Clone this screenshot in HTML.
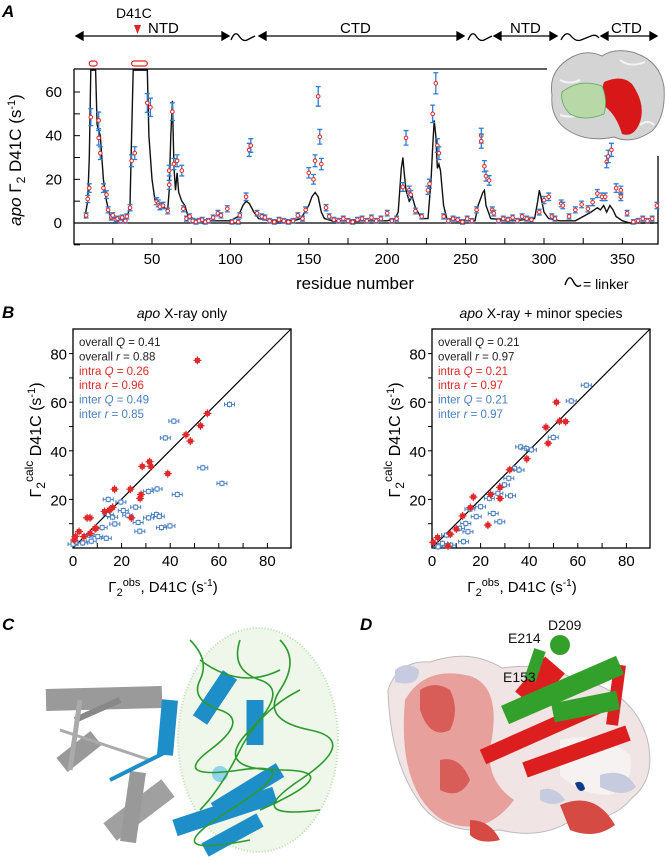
<!DOCTYPE html>
<html><head><meta charset="utf-8"><style>
html,body{margin:0;padding:0;background:#fff}
svg{display:block;font-family:"Liberation Sans",sans-serif}
</style></head><body>
<svg id="fig" width="666" height="863" viewBox="0 0 666 863" xmlns="http://www.w3.org/2000/svg">
<g id="panelA">
<text x="2" y="17" font-size="17" font-weight="bold" font-style="italic">A</text>
<g stroke="#000" stroke-width="1.3" fill="none">
<line x1="76" y1="36" x2="229" y2="36"/><path d="M76 36 l7 -4 v8z" fill="#000"/><path d="M229 36 l-7 -4 v8z" fill="#000"/>
<path d="M231 40 q4 -10 8 -4 t8 4 t8 -4" /><line x1="259" y1="36" x2="464" y2="36"/><path d="M259 36 l7 -4 v8z" fill="#000"/><path d="M464 36 l-7 -4 v8z" fill="#000"/>
<path d="M468 40 q4 -10 8 -4 t8 4 t8 -4"/><line x1="494" y1="36" x2="557" y2="36"/><path d="M494 36 l7 -4 v8z" fill="#000"/><path d="M557 36 l-7 -4 v8z" fill="#000"/>
<path d="M561 40 q5 -10 10 -4 t10 4 t10 -4 t8 2"/><line x1="601" y1="36" x2="656" y2="36"/><path d="M601 36 l7 -4 v8z" fill="#000"/><path d="M657 36 l-7 -4 v8z" fill="#000"/>
</g>
<g font-size="15">
<text x="116" y="18" font-size="14">D41C</text>
<path d="M134 25 h7 l-3.5 9z" fill="#d22"/>
<text x="148" y="33">NTD</text><text x="340" y="33">CTD</text><text x="510" y="33">NTD</text><text x="611" y="33">CTD</text>
</g>
<g>
<path d="M552 95 q-4 -25 20 -38 q15 -8 30 -1 q12 -8 30 -4 q28 8 32 35 q2 30 -12 44 q-20 14 -38 6 q-28 6 -48 -8 q-16 -12 -14 -34z" fill="#d4d4d4" stroke="#888"/>
<path d="M560 80 q10 5 20 0 M620 60 q10 8 25 2 M560 115 q15 5 25 -5 M640 125 q8 -6 14 0" fill="none" stroke="#f4f4f4" stroke-width="2"/>
<path d="M604 82 q18 -8 28 2 q14 20 8 38 q-6 16 -18 12 q-6 -20 -18 -28 q-4 -12 0 -24z" fill="#d81818"/>
<path d="M562 92 q18 -14 40 -6 q6 14 2 28 q-20 8 -34 0 q-10 -10 -8 -22z" fill="#b8d8a8" stroke="#5a5" stroke-width="0.8"/>
</g>
<g id="chartA"></g>
<text x="21" y="160" font-size="17" transform="rotate(-90 21 160)" text-anchor="middle"><tspan font-style="italic">apo</tspan> Γ<tspan font-size="12" dy="4">2</tspan><tspan dy="-4"> D41C (s</tspan><tspan font-size="11" dy="-6">-1</tspan><tspan dy="6">)</tspan></text>
<text x="355" y="289" font-size="17" text-anchor="middle">residue number</text>
<path d="M565 285 q4 -12 8 -4 t8 4" fill="none" stroke="#000" stroke-width="1.4"/>
<text x="583" y="289" font-size="14">= linker</text>
</g>
<g id="panelB">
<text x="2" y="318" font-size="17" font-weight="bold" font-style="italic">B</text>
<text x="182" y="318" font-size="14" text-anchor="middle"><tspan font-style="italic">apo</tspan> X-ray only</text>
<text x="541" y="318" font-size="14" text-anchor="middle"><tspan font-style="italic">apo</tspan> X-ray + minor species</text>
<g id="chartB1"></g>
<g id="chartB2"></g>
</g>
<g id="panelC">
<text x="2" y="630" font-size="17" font-weight="bold" font-style="italic">C</text>
<ellipse cx="258" cy="740" rx="80" ry="112" fill="#eef7ea" stroke="#bde0b0" stroke-width="2" stroke-dasharray="1 2"/>
<g stroke-linecap="butt">
<line x1="46" y1="700" x2="162" y2="697" stroke="#9a9a9a" stroke-width="22"/>
<line x1="75" y1="720" x2="120" y2="700" stroke="#888" stroke-width="6"/>
<line x1="62" y1="765" x2="96" y2="738" stroke="#999" stroke-width="18"/>
<line x1="70" y1="770" x2="80" y2="700" stroke="#aaa" stroke-width="5"/>
<line x1="110" y1="832" x2="168" y2="788" stroke="#a0a0a0" stroke-width="22"/>
<line x1="128" y1="842" x2="138" y2="772" stroke="#999" stroke-width="16"/>
<line x1="60" y1="730" x2="150" y2="760" stroke="#aaa" stroke-width="3"/>
<line x1="170" y1="700" x2="165" y2="755" stroke="#1e8ec8" stroke-width="16"/>
<line x1="200" y1="720" x2="230" y2="675" stroke="#1e8ec8" stroke-width="17"/>
<line x1="255" y1="700" x2="255" y2="745" stroke="#1e8ec8" stroke-width="17"/>
<line x1="175" y1="828" x2="275" y2="795" stroke="#1e8ec8" stroke-width="17"/>
<line x1="215" y1="810" x2="280" y2="770" stroke="#1e8ec8" stroke-width="16"/>
<line x1="205" y1="850" x2="260" y2="820" stroke="#1e8ec8" stroke-width="15"/>
<line x1="110" y1="780" x2="170" y2="750" stroke="#1e8ec8" stroke-width="4"/>
<circle cx="220" cy="774" r="8" fill="#8fd4ec"/>
</g>
<path d="M190 640 q20 20 10 40 t20 30 t-10 40 t30 20 t-10 40 t20 30 M240 640 q-10 30 20 40 t-10 50 t30 40 t-20 40 M280 640 q20 20 0 50 t30 40 t-10 50 t20 30 M300 690 q-40 20 -60 60 t-40 60 M200 660 q40 30 80 10" fill="none" stroke="#2c9a2c" stroke-width="1.6"/>
</g>
<g id="panelD">
<text x="360" y="630" font-size="17" font-weight="bold" font-style="italic">D</text>
<path d="M388 690 q10 -30 42 -28 q40 -14 72 6 q40 -6 70 10 q60 10 75 60 q10 40 -15 60 q-20 25 -60 22 q-30 20 -72 10 q-60 6 -82 -30 q-28 -40 -30 -110z" fill="#f0e4e4" stroke="#bbb"/>
<path d="M405 700 q20 -35 65 -24 q30 10 22 62 q-10 40 22 62 q-30 40 -72 20 q-45 -30 -37 -120z" fill="#e8a09c"/>
<path d="M420 690 q15 -10 30 0 q10 20 0 40 q-20 10 -30 -20z M440 760 q20 -5 30 20 q-10 20 -30 10z" fill="#d85d58"/>
<path d="M560 805 q35 -15 55 20 q-20 15 -45 5z M470 820 q20 0 30 20 q-20 5 -30 -5z" fill="#d64a44"/>
<path d="M560 740 q40 -10 70 15 q5 30 -20 40 q-30 0 -50 -20z" fill="#f7f2f2"/>
<path d="M395 670 q12 -10 24 0 q0 18 -24 12z M600 775 q25 -8 36 12 q-12 12 -36 0z M540 790 q15 -5 25 10 q-12 8 -25 0z" fill="#c6cbe0"/>
<path d="M575 783 q8 -4 10 6 q-6 6 -10 -6z" fill="#123a8a"/>
<g stroke-linecap="butt">
<line x1="525" y1="700" x2="555" y2="665" stroke="#dd1e1e" stroke-width="26"/>
<line x1="483" y1="757" x2="600" y2="705" stroke="#dd1e1e" stroke-width="16"/>
<line x1="525" y1="770" x2="628" y2="733" stroke="#dd1e1e" stroke-width="16"/>
<line x1="620" y1="665" x2="612" y2="725" stroke="#dd1e1e" stroke-width="12"/>
<line x1="505" y1="715" x2="620" y2="665" stroke="#34a02c" stroke-width="20"/>
<line x1="553" y1="713" x2="618" y2="700" stroke="#34a02c" stroke-width="19"/>
<line x1="530" y1="680" x2="540" y2="650" stroke="#34a02c" stroke-width="12"/>
<circle cx="560" cy="645" r="10" fill="#34a02c"/>
</g>
<g font-size="14" fill="#111">
<text x="508" y="643">E214</text>
<text x="548" y="630">D209</text>
<text x="503" y="682">E153</text>
</g>
</g>
</svg>
<script>
// ---------- Panel A data ----------
const ptRes = [8,9,10,11,16,16,17,19,21,22,24,25,27,28,30,31,33,34,36,37,39,47,49,53,54,55,57,60,61,61,63,64,66,69,70,72,74,76,78,80,82,84,86,89,92,94,98,101,105,106,110,112,113,117,120,122,125,128,131,134,137,140,143,146,148,150,153,154,156,157,158,161,163,166,169,172,175,178,181,184,187,190,193,196,200,203,206,210,212,214,215,218,222,226,227,229,231,232,233,236,239,242,245,248,251,254,257,260,260,262,263,265,267,268,271,274,277,280,283,286,289,292,297,300,303,305,307,311,312,316,320,324,328,331,334,337,339,340,341,343,346,349,349,353,357,360,363,366,369,372];
const ptVal = [3.5,11,16,48.5,39,47,32,16,13,6,2.5,3.5,1.5,2,1,2.5,1,3,7,28.5,32,55,53,10,9,7.5,8,5.5,17.5,24,51,27,28.5,24,6.5,2,3,1,0.5,1,1.5,0.5,1,2.5,4.5,3.5,6.5,0.5,0.5,3.5,12,33.5,35.5,4.5,3,2.5,1,0.5,1.5,1,0.5,1,3.5,2,6,23,20,28.5,58,39.5,27,7,3,1.5,1,2,1,0.5,1.5,2,1,2.5,1,2,4.5,1,2,16.5,39,15,13,5.5,3,15,18,50,64,35.5,32,3,1,2,1.5,0.5,2,1,6,40,37.5,26,21.5,19.5,6,4.5,1,2,1.5,2.5,1,3,2,1.5,5,10.5,12,3,2,9,8,3,6,8.5,6.5,9.5,13.5,12,12,28,30.5,33.5,16,15,12,4.5,0.5,1,2,1,2,8];
const lineRes = [7,9,10,11,14,15,17,19,21,23,26,34,36,37,38,47,48,50,52,55,58,60,61,62,63,64,65,66,67,69,71,73,80,95,100,105,108,110,112,115,118,125,140,145,150,152,154,156,158,160,165,200,205,207,209,210,211,212,214,216,218,222,226,228,229,230,231,232,233,234,236,238,250,256,258,260,261,262,263,266,280,294,296,297,298,300,303,310,320,325,330,334,336,338,340,342,344,346,350,355,370];
const lineVal = [2,10,30,70,70,45,40,20,10,4,2,2,8,40,70,70,40,20,10,8,7,6,15,40,56,25,15,23,14,10,8,3,1,1,1,3,8,10,9,5,2,1,1,2,8,12,14,12,5,2,1,1,2,5,25,30,22,15,10,12,7,2,2,20,35,47,40,25,27,24,8,2,1,1,8,12,14,15,8,2,1,2,10,15,12,5,2,1,1,3,5,7,6,8,5,8,6,3,1,0,0];
const xTicksA = [50,100,150,200,250,300,350];
const yTicksA = [0,20,40,60];

const NS="http://www.w3.org/2000/svg";
function mk(parent,tag,attrs){const e=document.createElementNS(NS,tag);for(const k in attrs)e.setAttribute(k,attrs[k]);parent.appendChild(e);return e;}

const xA = r => 73.6 + r*1.568;
const yA = v => 223 - Math.min(v,70.2)*2.183;
(function(){
  const g=document.getElementById('chartA');
  const ax=mk(g,'path',{d:'M74 69 H547 M74 69 V244 H658 V156',fill:'none',stroke:'#000','stroke-width':1.3});
  
  
  mk(g,'line',{x1:74,x2:658,y1:yA(0),y2:yA(0),stroke:'#000','stroke-width':1.3});
  for(let r=25;r<=350;r+=25){mk(g,'line',{x1:xA(r),x2:xA(r),y1:244,y2:238,stroke:'#000','stroke-width':1});}
  for(let v=-10;v<=60;v+=10){mk(g,'line',{x1:74,x2:80,y1:yA(v),y2:yA(v),stroke:'#000','stroke-width':1});}
  xTicksA.forEach(t=>{const e=mk(g,'text',{x:xA(t),y:264,'font-size':15,'text-anchor':'middle'});e.textContent=t;
    
    });
  yTicksA.forEach(t=>{const e=mk(g,'text',{x:62,y:yA(t)+5,'font-size':15,'text-anchor':'end'});e.textContent=t;
    
    });
  const d=lineRes.map((r,i)=>(i?'L':'M')+xA(r).toFixed(1)+' '+yA(lineVal[i]).toFixed(1)).join(' ');
  const ln=mk(g,'path',{d:d,fill:'none',stroke:'#111','stroke-width':1.4});
  
  
  mk(g,'rect',{x:xA(10),y:61,width:xA(15)-xA(10),height:5,rx:2.5,fill:'#fff',stroke:'#e22','stroke-width':1.2});
  mk(g,'rect',{x:xA(37),y:61,width:xA(47)-xA(37),height:5,rx:2.5,fill:'#fff',stroke:'#e22','stroke-width':1.2});
  ptRes.forEach((r,i)=>{
    const v=ptVal[i], e=1+0.06*v, x=xA(r);
    const eb=mk(g,'path',{d:`M${x} ${yA(v+e)} V${yA(v-e)} M${x-2.5} ${yA(v+e)} h5 M${x-2.5} ${yA(v-e)} h5`,stroke:'#2f7fd0','stroke-width':1.3,fill:'none'});
    
    
    const c=mk(g,'circle',{cx:x,cy:yA(v),r:1.8,fill:'#fff',stroke:'#e22','stroke-width':1});
    
    
  });
})();

// ---------- Panel B data ----------
const leftIntraX = [51.2,55.3,52.5,46.5,48.3,31.5,28.5,32,39,17.1,23.6,27.6,28,16.3,15,13,5.8,7,24,9.5,9,2.5,1,4.5,7,0.5];
const leftIntraY = [77.2,55.4,50.3,46.6,44,35.5,33.6,33.6,30.6,24.2,24.2,20.4,22,16.7,15.6,15,12.4,12.4,12.4,8.1,8,6.8,4.7,4.7,6,3.3];
const leftInterX = [64.4,41.5,38,53.4,61.3,42.9,34.6,31,14.5,19.7,25.8,20.7,22.5,16.3,14.5,31.1,34.3,35.5,26.8,17.2,12,27.5,36.4,39.9,6.7,10.2,13.7,1.3,4,0,7.5];
const leftInterY = [59.1,52.2,45.3,33,26.6,22,24.3,23.3,20,18.9,16.8,15.4,13.5,12.7,13.8,12.4,13.8,13,10.5,9.9,8.4,6.9,8.4,9.1,5.3,4.7,4,2.1,2.1,1.6,2.8];
const rightIntraX = [51.2,46.9,52.5,55,47.8,39,32,24.1,28,17,28,15.8,12.6,23,10,7.5,2.3,0.5,6.6];
const rightIntraY = [60,49.7,52.2,52,43.1,36.7,32.2,22,20.4,21,24.9,16.6,13.2,9.4,7.8,5.7,4.3,2.3,0.8];
const rightInterX = [63.5,57.3,49.9,36.5,39,40.9,34,35.8,31.6,29.8,27.1,32.3,23.6,20,15.6,25.2,18.2,27.9,13.9,11.3,14.8,6,4.3,2.5,7.7,13];
const rightInterY = [67,60.5,45.5,41.6,40.9,40.4,32.8,32.1,28.7,26,22.5,21.5,20.4,17,16,14.2,12.9,10.8,10.1,8.1,6.7,5.3,1.9,0.5,1.2,2.6];
const bTicks = [0,20,40,60,80];
const leftStats = ["overall Q = 0.41","overall r = 0.88","intra Q = 0.26","intra r = 0.96","inter Q = 0.49","inter r = 0.85"];
const rightStats = ["overall Q = 0.21","overall r = 0.97","intra Q = 0.21","intra r = 0.97","inter Q = 0.21","inter r = 0.97"];
const statColors=['#222','#222','#e0282a','#e0282a','#4a7fc0','#4a7fc0'];

function scatter(id,x0,ix,iy,ex,ey,stats){
  const g=document.getElementById(id);
  const sx=v=>x0+v*2.43, sy=v=>548-v*2.43;
  const box=mk(g,'rect',{x:x0,y:329,width:218,height:219,fill:'none',stroke:'#000','stroke-width':1.3});
  
  
  mk(g,'line',{x1:sx(0),y1:sy(0),x2:x0+218,y2:329,stroke:'#000','stroke-width':1.2});
  for(let v=10;v<=80;v+=10){
    mk(g,'line',{x1:x0-4,x2:x0,y1:sy(v),y2:sy(v),stroke:'#000'});
    mk(g,'line',{x1:sx(v),x2:sx(v),y1:548,y2:543,stroke:'#000'});
  }
  bTicks.forEach(t=>{
    const a=mk(g,'text',{x:sx(t),y:566,'font-size':15,'text-anchor':'middle'});a.textContent=t;
    
    
    if(t>0){const b=mk(g,'text',{x:x0-6,y:sy(t)+6,'font-size':15,'text-anchor':'end'});b.textContent=t;
    
    }
  });
  const xt=mk(g,'text',{x:x0+90,y:592,'font-size':15,'text-anchor':'middle'});
  xt.innerHTML='Γ<tspan font-size="11" dy="4">2</tspan><tspan font-size="11" dy="-10">obs</tspan><tspan dy="6">, D41C (s</tspan><tspan font-size="10" dy="-6">-1</tspan><tspan dy="6">)</tspan>';
  
  
  const yx=x0-32, yy=440;
  const yt=mk(g,'text',{x:yx,y:yy,'font-size':16,'text-anchor':'middle',transform:`rotate(-90 ${yx} ${yy})`});
  yt.innerHTML='Γ<tspan font-size="12" dy="4">2</tspan><tspan font-size="12" dy="-12">calc</tspan><tspan dy="8"> D41C (s</tspan><tspan font-size="11" dy="-6">-1</tspan><tspan dy="6">)</tspan>';
  
  
  stats.forEach((s,i)=>{
    const parts=s.split(' = '), w=parts[0].split(' ');
    const t=mk(g,'text',{x:x0+6,y:346+i*14.4,'font-size':11.5,fill:statColors[i]});
    t.innerHTML=w[0]+' <tspan font-style="italic">'+w[1]+'</tspan> = '+parts[1];
    
    
  });
  ex.forEach((x,i)=>{
    const X=sx(x),Y=sy(ey[i]);
    mk(g,'path',{d:`M${X-5} ${Y} H${X+5} M${X} ${Y-3} V${Y+3} M${X-5} ${Y-2} v4 M${X+5} ${Y-2} v4`,stroke:'#4a7fc0','stroke-width':1,fill:'none'});
    const p=mk(g,'rect',{x:X-2,y:Y-2,width:4,height:4,fill:'#fff',stroke:'#4a7fc0','stroke-width':1});
    
    
  });
  ix.forEach((x,i)=>{
    const X=sx(x),Y=sy(iy[i]);
    mk(g,'path',{d:`M${X-4} ${Y} H${X+4} M${X} ${Y-4} V${Y+4}`,stroke:'#e0282a','stroke-width':1.2,fill:'none'});
    const p=mk(g,'rect',{x:X-2.5,y:Y-2.5,width:5,height:5,fill:'#e0282a'});
    
    
  });
}
scatter('chartB1',73,leftIntraX,leftIntraY,leftInterX,leftInterY,leftStats);
scatter('chartB2',432,rightIntraX,rightIntraY,rightInterX,rightInterY,rightStats);
</script>
</body></html>
